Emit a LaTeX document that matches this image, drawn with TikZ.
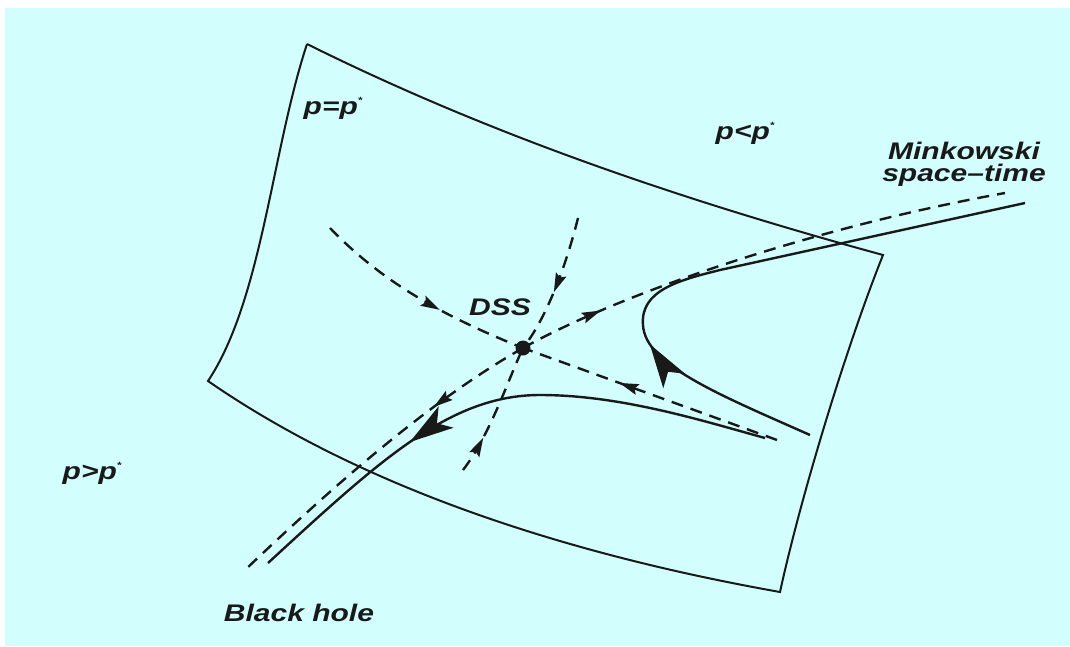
\documentclass[tikz,border=0pt]{standalone}
\usepackage{fontspec}
\setmainfont{Liberation Sans}
\usetikzlibrary{arrows.meta,decorations.markings}
\definecolor{bgcyan}{RGB}{210,254,254}
\definecolor{ink}{RGB}{25,25,25}
\newcommand\wtxt[1]{\scalebox{1.25}[1]{#1}}
\newcommand\pstar{\raisebox{11pt}{\fontsize{9}{9}\selectfont *}}
\tikzset{
  sheetedge/.style={line width=2pt, draw=ink},
  traj/.style={line width=2.4pt, draw=ink},
  manif/.style={line width=2.4pt, draw=ink, dash pattern=on 12pt off 8pt},
  lbl/.style={font=\bfseries\itshape\fontsize{24}{22}\selectfont, text=ink, inner sep=0pt, align=center},
  bigarr/.style={decoration={markings, mark=at position #1 with {\arrow{Stealth[length=44pt,width=26pt,inset=11pt]}}}, postaction={decorate}},
  smallarr/.style={decoration={markings, mark=at position #1 with {\arrow{Stealth[length=19pt,width=11pt,inset=3pt]}}}, postaction={decorate}},
}
\begin{document}
\begin{tikzpicture}[x=1pt,y=-1pt]
\useasboundingbox (0,0) rectangle (1070,646);
\fill[white] (0,0) rectangle (1070,646);
\fill[bgcyan] (5,8) rectangle (1070,646);

% sheet (critical surface)
\coordinate (c1) at (307,44);
\coordinate (c2) at (883,255);
\coordinate (c3) at (780,592);
\coordinate (c4) at (208,381);
\draw[sheetedge, line join=miter]
  (c1) .. controls (500,140) and (700,205) .. (c2)
       .. controls (845,350) and (800,500) .. (c3)
       .. controls (600,560) and (380,500) .. (c4)
       .. controls (262,300) and (272,150) .. (c1);

% critical point
\coordinate (dssp) at (523,348);

% stable manifolds in the sheet
\coordinate (s1) at (330,228);
\coordinate (s2) at (777,440);
\coordinate (s3) at (578,218);
\coordinate (s4) at (463,470);
\draw[manif, smallarr=0.6] (s1) .. controls (380,280) and (440,315) .. (dssp);
\draw[manif, smallarr=0.62] (s2) -- (dssp);
\draw[manif, smallarr=0.55] (s3) .. controls (565,270) and (545,320) .. (dssp);
\draw[manif, smallarr=0.28] (s4) .. controls (490,435) and (508,380) .. (dssp);

% unstable manifold
\coordinate (u1) at (1005,193);
\coordinate (u2) at (245,570);
\draw[manif, smallarr=0.17] (dssp) .. controls (612,298) and (800,230) .. (u1);
\draw[manif, smallarr=0.3] (dssp) .. controls (440,395) and (350,470) .. (u2);

% trajectories
\coordinate (a0) at (810,435);
\coordinate (a1) at (643,325);
\coordinate (a2) at (720,270);
\coordinate (a3) at (1025,203);
\draw[traj, bigarr=0.9] (a0) .. controls (720,395) and (645,365) .. (a1);
\draw[traj] (a1) .. controls (640,290) and (680,280) .. (a2) -- (a3);

\coordinate (b0) at (765,438);
\coordinate (b1) at (540,395);
\coordinate (b2) at (268,563);
\draw[traj] (b0) .. controls (700,420) and (620,395) .. (b1);
\draw[traj, bigarr=0.43] (b1) .. controls (450,395) and (380,460) .. (b2);

\fill[ink] (dssp) circle (7.5);

% labels
\node[lbl] (lpeq) at (333,108) {\wtxt{p=p\pstar}};
\node[lbl] (lplt) at (745,133) {\wtxt{p<p\pstar}};
\node[lbl] (lpgt) at (92,473) {\wtxt{p>p\pstar}};
\node[lbl] (lmink) at (964,164) {\wtxt{Minkowski}\\\wtxt{space–time}};
\node[lbl] (lbh) at (299,613) {\wtxt{Black hole}};
\node[lbl] (ldss) at (500,307) {\wtxt{DSS}};
\end{tikzpicture}
\end{document}
